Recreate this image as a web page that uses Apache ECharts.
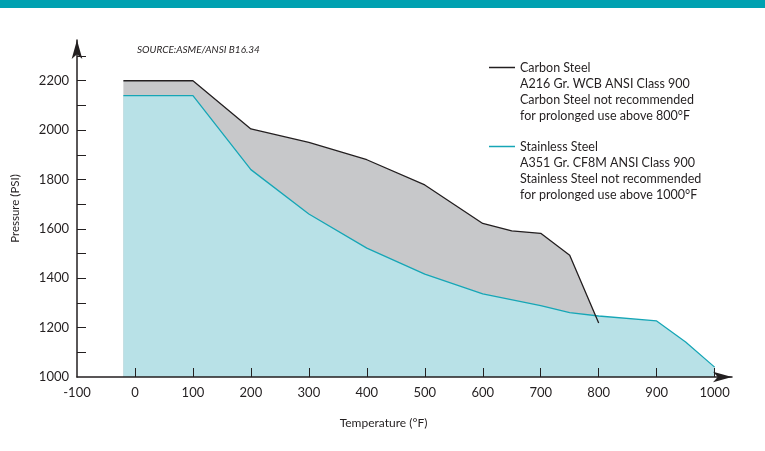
<!DOCTYPE html>
<html><head><meta charset="utf-8">
<script src="https://cdn.jsdelivr.net/npm/echarts@6/dist/echarts.min.js"></script>
<style>html,body{margin:0;padding:0;background:#fff}#c{width:765px;height:451px}</style>
</head><body><div id="c"></div>
<script>
const temps = [-20, 100, 200, 300, 400, 500, 600, 650, 700, 750, 800];
const carbonPSI = [2200, 2200, 2005, 1950, 1880, 1778, 1622, 1592, 1582, 1493, 1219];
const stainTemps = [-20, 100, 200, 300, 400, 500, 600, 700, 750, 800, 900, 950, 1000];
const stainPSI = [2140, 2140, 1840, 1660, 1522, 1417, 1337, 1289, 1261, 1247, 1227, 1142, 1040];
const xTickValues = [0, 100, 200, 300, 400, 500, 600, 700, 800, 900, 1000];
const xLabelValues = [-100, 0, 100, 200, 300, 400, 500, 600, 700, 800, 900, 1000];
const yTickValues = [1100, 1200, 1300, 1400, 1500, 1600, 1700, 1800, 1900, 2000, 2100, 2200, 2300];
const yLabelValues = [1000, 1200, 1400, 1600, 1800, 2000, 2200];
const carbonNotes = ['A216 Gr. WCB ANSI Class 900', 'Carbon Steel not recommended', 'for prolonged use above 800°F'];
const stainNotes = ['A351 Gr. CF8M ANSI Class 900', 'Stainless Steel not recommended', 'for prolonged use above 1000°F'];

const FONT = 'Lato';
const TXT = '#231f20';
const CARBON = '#231f20';
const STAIN = '#16a6b6';
const chart = echarts.init(document.getElementById('c'));

function noteTexts(lines, top) {
  return lines.map((t, i) => ({
    type: 'text', left: 520, top: top + i * 16,
    style: { text: t, font: '12.5px ' + FONT, fill: TXT }
  }));
}
const plain = v => String(v);
const carbonData = temps.map((t, i) => [t, carbonPSI[i]]);
const stainData = stainTemps.map((t, i) => [t, stainPSI[i]]);

chart.setOption({
  animation: false,
  grid: { left: 77, right: 33, top: 40, bottom: 74 },
  xAxis: {
    type: 'value', min: -100, max: 1030, z: 10,
    name: 'Temperature (°F)', nameLocation: 'middle', nameGap: 40,
    nameTextStyle: { fontFamily: FONT, fontSize: 12, color: TXT, padding: [0, 42, 0, 0] },
    axisLine: { show: true, onZero: false, symbol: ['none', 'arrow'], symbolSize: [8, 19], lineStyle: { color: '#231f20', width: 1.5 } },
    axisTick: { show: true, inside: true, length: 9, customValues: xTickValues, lineStyle: { color: '#231f20', width: 1 } },
    axisLabel: { customValues: xLabelValues, formatter: plain, fontFamily: FONT, fontSize: 13, color: TXT, margin: 9 },
    splitLine: { show: false }
  },
  yAxis: {
    type: 'value', min: 1000, max: 2365, z: 10,
    name: 'Pressure (PSI)', nameLocation: 'middle', nameGap: 56,
    nameTextStyle: { fontFamily: FONT, fontSize: 11.5, color: TXT },
    axisLine: { show: true, onZero: false, symbol: ['none', 'arrow'], symbolSize: [8, 19], lineStyle: { color: '#231f20', width: 1.5 } },
    axisTick: { show: true, inside: true, length: 9, customValues: yTickValues, lineStyle: { color: '#231f20', width: 1 } },
    axisLabel: { customValues: yLabelValues, formatter: plain, fontFamily: FONT, fontSize: 13, color: TXT, margin: 8 },
    splitLine: { show: false }
  },
  series: [
    {
      name: 'Carbon Steel area', type: 'line', symbol: 'none',
      data: carbonData,
      lineStyle: { width: 0 },
      areaStyle: { color: '#c7c8ca', opacity: 1, origin: 'start' },
      z: 2
    },
    {
      name: 'Stainless Steel', type: 'line', symbol: 'none',
      data: stainData,
      itemStyle: { color: STAIN },
      lineStyle: { color: STAIN, width: 1.3 },
      areaStyle: { color: '#b8e1e7', opacity: 1, origin: 'start' },
      z: 3
    },
    {
      name: 'Carbon Steel', type: 'line', symbol: 'none',
      data: carbonData,
      itemStyle: { color: CARBON },
      lineStyle: { color: CARBON, width: 1.3 },
      z: 4
    }
  ],
  legend: [
    { data: ['Carbon Steel'], left: 489, top: 61, padding: 0, icon: 'rect', itemWidth: 26, itemHeight: 1.5, itemGap: 5,
      textStyle: { fontFamily: FONT, fontSize: 12.5, color: TXT } },
    { data: ['Stainless Steel'], left: 489, top: 140, padding: 0, icon: 'rect', itemWidth: 26, itemHeight: 1.5, itemGap: 5,
      textStyle: { fontFamily: FONT, fontSize: 12.5, color: TXT } }
  ],
  graphic: [
    { type: 'rect', left: 0, top: 0, shape: { width: 765, height: 8 }, style: { fill: '#00a1b1' } },
    { type: 'text', left: 137, top: 45, style: { text: 'SOURCE:ASME/ANSI B16.34', font: 'italic 10px ' + FONT, fill: TXT } },
    ...noteTexts(carbonNotes, 77),
    ...noteTexts(stainNotes, 156)
  ]
});
</script></body></html>
